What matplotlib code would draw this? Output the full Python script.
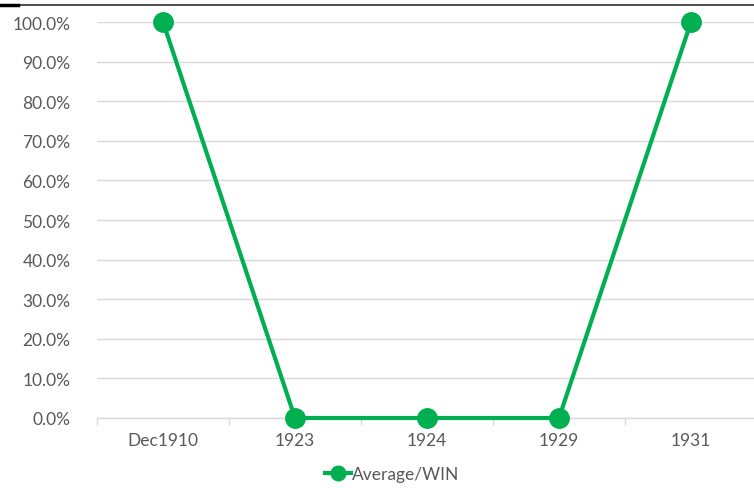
import numpy as np
import matplotlib.pyplot as plt
from matplotlib.ticker import FuncFormatter, FixedLocator

categories = ["Dec1910", "1923", "1924", "1929", "1931"]
average_win = [1.0, 0.0, 0.0, 0.0, 1.0]
y_ticks = [0.0, 0.1, 0.2, 0.3, 0.4, 0.5, 0.6, 0.7, 0.8, 0.9, 1.0]

green = "#00B050"
grey_text = "#595959"
grid_col = "#d9d9d9"

plt.rcParams['font.family'] = ['Lato', 'DejaVu Sans']

fig = plt.figure(figsize=(7.54, 4.89), dpi=100)
ax = fig.add_axes([97 / 754, 70 / 489, 660 / 754, 396 / 489])

x = np.arange(len(categories))
line, = ax.plot(x, average_win, color=green, linewidth=3, marker='o',
                markersize=14, label="Average/WIN", clip_on=False, zorder=3)

ax.set_xlim(-0.5, len(categories) - 0.5)
ax.set_ylim(0, 1.0)
ax.set_yticks(y_ticks)
ax.yaxis.set_major_formatter(FuncFormatter(lambda v, p: f"{v * 100:.1f}%"))
ax.set_xticks(x)
ax.set_xticklabels(categories)
ax.xaxis.set_minor_locator(FixedLocator(np.arange(-0.5, len(categories), 1.0)))

ax.grid(axis='y', color=grid_col, linewidth=1)
ax.set_axisbelow(True)
for side in ['top', 'right', 'left']:
    ax.spines[side].set_visible(False)
ax.spines['bottom'].set_color(grid_col)
ax.spines['bottom'].set_linewidth(1)

ax.tick_params(axis='y', length=0, pad=19, labelsize=12.5, labelcolor=grey_text)
ax.tick_params(axis='x', which='major', length=0, pad=10, labelsize=12.5,
               labelcolor=grey_text)
ax.tick_params(axis='x', which='minor', length=5, color=grid_col, width=1)

# top border line of the (cropped) title area
fig.add_artist(plt.Line2D([0, 1], [483.5 / 489, 483.5 / 489], color="#303030",
                          linewidth=1.2, transform=fig.transFigure))
fig.add_artist(plt.Line2D([0, 18 / 754], [483.5 / 489, 483.5 / 489],
                          color="black", linewidth=2.5,
                          transform=fig.transFigure))

fig.legend(handles=[line], loc='lower center', bbox_to_anchor=(0.52, -0.012),
           frameon=False, fontsize=12.5, handlelength=1.5, handletextpad=0.1,
           markerscale=0.75, labelcolor=grey_text, borderpad=0.2)

fig.savefig("out.png", dpi=100)
